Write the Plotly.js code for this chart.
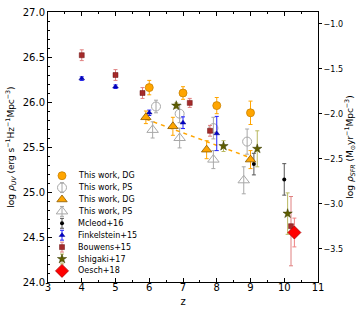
<!DOCTYPE html>
<html>
<head>
<meta charset="utf-8">
<script src="https://cdn.plot.ly/plotly-3.0.1.min.js"></script>
<style>html,body{margin:0;padding:0;background:#fff;}#chart{width:360px;height:315px;}</style>
</head>
<body>
<div id="chart"></div>
<script>
// ---- data ----
const dgCircZ   = [6.0, 7.0, 8.0, 9.0];
const dgCircUV  = [26.16, 26.10, 25.96, 25.88];
const dgCircErr = [0.08, 0.07, 0.09, 0.13];

const psCircZ   = [6.2, 6.9, 7.9, 8.9];
const psCircUV  = [25.95, 25.87, 25.71, 25.56];
const psCircErr = [0.07, 0.10, 0.12, 0.14];

const dgTriZ    = [5.9, 6.7, 7.7, 9.0];
const dgTriUV   = [25.83, 25.73, 25.47, 25.36];
const dgTriErr  = [0.07, 0.10, 0.10, 0.10];

const psTriZ    = [6.1, 6.9, 7.9, 8.8];
const psTriUV   = [25.69, 25.60, 25.36, 25.13];
const psTriErr  = [0.09, 0.11, 0.10, 0.15];

const fitZ      = [5.9, 9.0];
const fitUV     = [25.81, 25.38];

const mcleodZ   = [9.1, 10.0];
const mcleodUV  = [25.31, 25.14];
const mcleodErr = [0.12, 0.175];

const finkZ     = [4.0, 5.0, 6.0, 7.0, 8.0];
const finkUV    = [26.26, 26.17, 25.88, 25.77, 25.65];
const finkErr   = [0.02, 0.02, 0.03, 0.065, 0.19];

const bouwZ       = [4.0, 5.0, 5.8, 7.2, 7.8, 10.2];
const bouwUV      = [26.52, 26.30, 26.10, 25.99, 25.68, 24.62];
const bouwErrUp   = [0.06, 0.06, 0.06, 0.05, 0.06, 0.33];
const bouwErrDown = [0.06, 0.06, 0.06, 0.05, 0.06, 0.44];

const ishiZ     = [6.8, 8.2, 9.2, 10.1];
const ishiUV    = [25.96, 25.51, 25.48, 24.76];
const ishiErr   = [0.03, 0.06, 0.20, 0.23];

const oeschZ    = [10.3];
const oeschUV   = [24.55];
const oeschErr  = [0.16];

const legendLabels = ["This work, DG", "This work, PS", "This work, DG", "This work, PS",
  "Mcleod+16", "Finkelstein+15", "Bouwens+15", "Ishigaki+17", "Oesch+18"];

const uvToSfr = -27.867;   // offset between the two y scales
const uvRange = [24, 27];
const zRange = [3, 11];

// ---- styles ----
const ORANGE = "#FFA500", ORANGE_EDGE = "#C98200";
const GREY = "#A8A8A8";
const styles = [
  {marker:{symbol:"circle", size:8, color:ORANGE, line:{color:ORANGE_EDGE, width:0.8}}, err:ORANGE, legErr:false},
  {marker:{symbol:"circle-open", size:9, color:GREY, line:{color:GREY, width:1}}, err:GREY, legErr:true},
  {marker:{symbol:"triangle-up", size:9, color:ORANGE, line:{color:"#8a5a00", width:0.8}}, err:ORANGE, legErr:false},
  {marker:{symbol:"triangle-up-open", size:10, color:GREY, line:{color:GREY, width:1}}, err:GREY, legErr:true},
  {marker:{symbol:"circle", size:4, color:"#000000"}, err:"#555555", legErr:true},
  {marker:{symbol:"triangle-up", size:5, color:"#0000CC", line:{color:"#000080", width:0.5}}, err:"#2020FF", legErr:true},
  {marker:{symbol:"square", size:5, color:"#A52A2A", line:{color:"#6b1010", width:0.5}}, err:"#E08080", legErr:true},
  {marker:{symbol:"star", size:7, color:"#5E5E00", line:{color:"#3a3a00", width:0.5}}, err:"#B8B860", legErr:true},
  {marker:{symbol:"diamond", size:10, color:"#FF0000", line:{color:"#B00000", width:0.8}}, err:"#F08080", legErr:false}
];

function eb(arr, color, minus){
  const o = {type:"data", array:arr, color:color, thickness:1, width:2, visible:true};
  if (minus){ o.symmetric = false; o.arrayminus = minus; }
  return o;
}
function pts(x, y, err, s, minus){
  return {x:x, y:y, type:"scatter", mode:"markers", marker:s.marker,
    error_y:eb(err, s.err, minus), showlegend:false, hoverinfo:"skip"};
}

const traces = [
  pts(psTriZ, psTriUV, psTriErr, styles[3]),
  pts(psCircZ, psCircUV, psCircErr, styles[1]),
  {x:fitZ, y:fitUV, type:"scatter", mode:"lines", line:{color:ORANGE, width:1.5, dash:"4px,4px"}, showlegend:false, hoverinfo:"skip"},
  pts(mcleodZ, mcleodUV, mcleodErr, styles[4]),
  pts(finkZ, finkUV, finkErr, styles[5]),
  pts(bouwZ, bouwUV, bouwErrUp, styles[6], bouwErrDown),
  pts(ishiZ, ishiUV, ishiErr, styles[7]),
  pts(oeschZ, oeschUV, oeschErr, styles[8]),
  pts(dgTriZ, dgTriUV, dgTriErr, styles[2]),
  pts(dgCircZ, dgCircUV, dgCircErr, styles[0]),
  // invisible trace to activate the right-hand axis
  {x:zRange, y:[uvRange[0]+uvToSfr, uvRange[1]+uvToSfr], yaxis:"y2", type:"scatter", mode:"markers",
   marker:{opacity:0}, showlegend:false, hoverinfo:"skip"}
];

// ---- hand-built compact legend, placed in axis units ----
const legKeyZ = 3.415, legTextZ = 3.83, legTopUV = 25.181, legStepUV = 0.1322, legErrUV = 0.055;
const annotations = [];
legendLabels.forEach((lab, i) => {
  const yy = legTopUV - i*legStepUV;
  const s = styles[i];
  const m = JSON.parse(JSON.stringify(s.marker));
  traces.push({x:[legKeyZ], y:[yy], type:"scatter", mode:"markers",
    marker:m, showlegend:false, hoverinfo:"skip",
    error_y: s.legErr ? {type:"constant", value:legErrUV, color:s.err, thickness:1, width:2} : {visible:false}});
  annotations.push({x:legTextZ, y:yy, xref:"x", yref:"y", text:lab, showarrow:false,
    xanchor:"left", yanchor:"middle", font:{family:"DejaVu Sans", size:8, color:"#000"}});
});

const layout = {
  width:360, height:315,
  margin:{l:48, r:42, t:12, b:33},
  paper_bgcolor:"#fff", plot_bgcolor:"#fff",
  font:{family:"DejaVu Sans", color:"#000", size:10},
  showlegend:false,
  xaxis:{range:zRange, dtick:1, tick0:3, ticks:"inside", ticklen:4, tickcolor:"#000",
    showline:true, linecolor:"#000", linewidth:1, mirror:"ticks", showgrid:false, zeroline:false,
    tickfont:{family:"DejaVu Sans", size:10, color:"#000"}, ticklabelstandoff:-4,
    minor:{dtick:0.5, ticks:"inside", ticklen:2, tickcolor:"#000"},
    title:{text:"z", font:{family:"DejaVu Sans", size:10, color:"#000"}, standoff:5}},
  yaxis:{range:uvRange, dtick:0.5, tick0:24, tickformat:".1f", ticks:"inside", ticklen:4, tickcolor:"#000",
    showline:true, linecolor:"#000", linewidth:1, mirror:true, showgrid:false, zeroline:false,
    tickfont:{family:"DejaVu Sans", size:10, color:"#000"},
    minor:{dtick:0.1, ticks:"inside", ticklen:2, tickcolor:"#000"},
    title:{text:"log <i>ρ</i><sub><i>UV</i></sub> (erg s<sup>−1</sup>Hz<sup>−1</sup>Mpc<sup>−3</sup>)", font:{family:"DejaVu Sans", size:9, color:"#000"}, standoff:6}},
  yaxis2:{overlaying:"y", side:"right", range:[uvRange[0]+uvToSfr, uvRange[1]+uvToSfr], tick0:-3.5, dtick:0.5,
    tickformat:".1f", ticks:"outside", ticklen:3, tickcolor:"#000", showline:false, showgrid:false, zeroline:false,
    tickfont:{family:"DejaVu Sans", size:8, color:"#000"},
    title:{text:"log <i>ρ</i><sub><i>SFR</i></sub> (M<sub>⊙</sub>yr<sup>−1</sup>Mpc<sup>−3</sup>)", font:{family:"DejaVu Sans", size:9, color:"#000"}, standoff:3}},
  annotations:annotations
};

Plotly.newPlot("chart", traces, layout, {staticPlot:true, displayModeBar:false});
</script>
</body>
</html>
